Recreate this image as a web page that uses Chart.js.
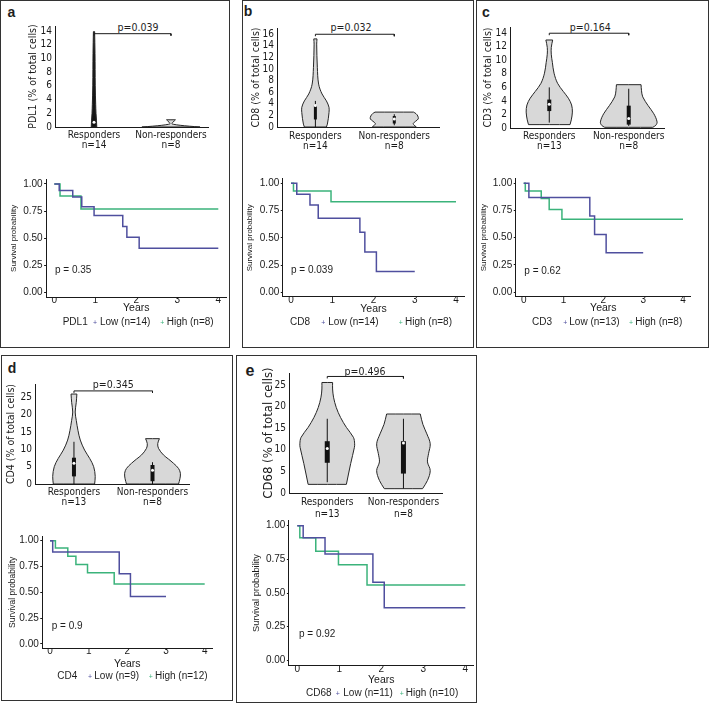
<!DOCTYPE html>
<html>
<head>
<meta charset="utf-8">
<title>Immune markers, response and survival</title>
<script src="https://cdn.jsdelivr.net/npm/chart.js@4.4.1/dist/chart.umd.min.js"></script>
<style>
  html, body { margin: 0; padding: 0; background: #fff; }
  body { position: relative; width: 709px; height: 704px; overflow: hidden;
         font-family: 'Liberation Sans', Arial, sans-serif; color: #1e1e1e; }
  .box { position: absolute; border: 1.5px solid #333; box-sizing: border-box; }
  .txt { position: absolute; white-space: nowrap; line-height: 1; }
  canvas { position: absolute; }
</style>
</head>
<body>
<script>
// ---- data ----
const groups = ['Responders', 'Non-responders'];
const yearTicks = [0, 1, 2, 3, 4];
const survTicks = [0, 0.25, 0.5, 0.75, 1];

// a : PDL1
const aN = ['n=14', 'n=8'];
const aP = 'p=0.039';
const aTicks = [0, 2, 4, 6, 8, 10, 12, 14];
const aRespY = [0, 1, 2, 3.3, 6, 10.7, 13.9];
const aRespW = [0.018, 0.016, 0.013, 0.011, 0.008, 0.0065, 0.004];
const aNonY = [0, 0.12, 0.25, 0.4, 0.5, 0.7, 0.9, 1.05];
const aNonW = [0.19, 0.12, 0.06, 0.015, 0.006, 0.013, 0.022, 0.029];
const aRespBox = [0.1, 0.3, 0.7, 1.2, 1.6]; // whisker lo, q1, median, q3, whisker hi
const aBracket = 13.6;
const aLowT = [0, 0.12, 0.45, 0.67, 0.97, 1.67, 1.77, 2.07, 4];
const aLowS = [1, 0.94, 0.88, 0.79, 0.71, 0.61, 0.51, 0.41, 0.41];
const aHighT = [0, 0.14, 0.65, 4];
const aHighS = [1, 0.89, 0.77, 0.77];
const aLegend = ['Low (n=14)', 'High (n=8)'];
const aKmP = 'p = 0.35';

// b : CD8
const bN = ['n=14', 'n=8'];
const bP = 'p=0.032';
const bTicks = [0, 2, 4, 6, 8, 10, 12, 14, 16];
const bRespY = [0, 0.5, 1.5, 2.5, 3.4, 4.5, 5.7, 7.4, 10.3, 14.3, 15.2];
const bRespW = [0.068, 0.074, 0.080, 0.084, 0.084, 0.068, 0.041, 0.020, 0.012, 0.008, 0.010];
const bNonY = [0, 0.3, 0.6, 1.0, 1.4, 1.9, 2.3, 2.57];
const bNonW = [0.136, 0.123, 0.117, 0.132, 0.148, 0.145, 0.134, 0.119];
const bRespBox = [0, 1.3, 3.7, 3.8, 4.5];
const bNonBox = [0.3, 0.6, 1.4, 1.9, 2.2];
const bBracket = 16;
const bLowT = [0, 0.14, 0.46, 0.66, 1.67, 1.79, 2.07, 3];
const bLowS = [1, 0.90, 0.80, 0.68, 0.55, 0.37, 0.19, 0.19];
const bHighT = [0, 0.06, 0.97, 4];
const bHighS = [1, 0.93, 0.83, 0.83];
const bLegend = ['Low (n=14)', 'High (n=8)'];
const bKmP = 'p = 0.039';

// c : CD3
const cN = ['n=13', 'n=8'];
const cP = 'p=0.164';
const cTicks = [0, 2, 4, 6, 8, 10, 12, 14];
const cRespY = [0.5, 1.2, 2.35, 3.4, 4.4, 5.4, 6.6, 8.1, 9.7, 10.9, 11.9, 13.0];
const cRespW = [0.135, 0.143, 0.150, 0.145, 0.124, 0.091, 0.054, 0.031, 0.020, 0.013, 0.013, 0.022];
const cNonY = [0.1, 0.4, 0.9, 2.1, 3.3, 4.6, 5.5, 6.4];
const cNonW = [0.156, 0.176, 0.184, 0.163, 0.126, 0.091, 0.083, 0.080];
const cRespBox = [0.8, 2.5, 3.5, 4.2, 6];
const cNonBox = [0.3, 0.5, 1.4, 3.3, 5.8];
const cBracket = 14;
const cLowT = [0, 0.13, 1.66, 1.78, 2.07, 3];
const cLowS = [1, 0.87, 0.70, 0.53, 0.36, 0.36];
const cHighT = [0, 0.04, 0.44, 0.64, 0.96, 4];
const cHighS = [1, 0.93, 0.86, 0.76, 0.67, 0.67];
const cLegend = ['Low (n=13)', 'High (n=8)'];
const cKmP = 'p = 0.62';

// d : CD4
const dN = ['n=13', 'n=8'];
const dP = 'p=0.345';
const dTicks = [0, 5, 10, 15, 20, 25];
const dRespY = [0, 2.2, 5, 7.4, 9.8, 12.7, 15.5, 18.4, 20.8, 23.6, 26];
const dRespW = [0.134, 0.138, 0.128, 0.102, 0.069, 0.041, 0.026, 0.015, 0.008, 0.015, 0.019];
const dNonY = [0, 1.5, 3.1, 4.5, 6, 7.2, 8.4, 10.3, 11.7, 13.1];
const dNonW = [0.169, 0.178, 0.181, 0.169, 0.136, 0.104, 0.071, 0.039, 0.034, 0.045];
const dRespBox = [0, 2.2, 6, 7.6, 12.2];
const dNonBox = [0, 0.8, 4, 5.5, 6.3];
const dBracket = 26.9;
const dLowT = [0, 0.07, 1.79, 2.08, 3];
const dLowS = [1, 0.89, 0.68, 0.46, 0.46];
const dHighT = [0, 0.14, 0.46, 0.67, 0.97, 1.66, 4];
const dHighS = [1, 0.93, 0.85, 0.77, 0.69, 0.58, 0.58];
const dLegend = ['Low (n=9)', 'High (n=12)'];
const dKmP = 'p = 0.9';

// e : CD68
const eN = ['n=13', 'n=8'];
const eP = 'p=0.496';
const eTicks = [0, 5, 10, 15, 20, 25];
const eRespY = [2.0, 6.8, 10.5, 11.4, 12.9, 15.2, 17.5, 19.8, 22.2, 24.1, 25.6];
const eRespW = [0.125, 0.153, 0.177, 0.179, 0.171, 0.125, 0.087, 0.059, 0.041, 0.035, 0.035];
const eNonY = [1.0, 2.9, 5.2, 7.2, 9.1, 11.4, 13.7, 15.9, 18.3];
const eNonW = [0.125, 0.157, 0.175, 0.157, 0.164, 0.175, 0.153, 0.127, 0.110];
const eRespBox = [2.5, 7, 10.3, 12, 17.2];
const eNonBox = [1, 4.5, 11.6, 12, 17.2];
const eBracket = 27;
const eLowT = [0, 0.14, 0.66, 1.8, 2.07, 4];
const eLowS = [1, 0.91, 0.79, 0.58, 0.39, 0.39];
const eHighT = [0, 0.06, 0.44, 0.98, 1.66, 4];
const eHighS = [1, 0.91, 0.81, 0.71, 0.56, 0.56];
const eLegend = ['Low (n=11)', 'High (n=10)'];
const eKmP = 'p = 0.92';

// ---- styles ----
const SANS = "'Liberation Sans', Arial, sans-serif";
const NARROW = "'Liberation Sans Narrow', 'Arial Narrow', 'DejaVu Sans Condensed', sans-serif";
const INK = '#1a1a1a';
const LOW_COL = '#4f4f9e';
const HIGH_COL = '#3bb37b';
const KM_X = [-0.2, 4.2];
const KM_Y = [-0.04, 1.04];
Chart.defaults.font.family = SANS;
Chart.defaults.color = INK;

// ---- page layout (pixels) ----
const panels = [
  { letter: 'a', marker: 'PDL1', n: aN, p: aP, kmP: aKmP, legend: aLegend, yTicks: aTicks, bracket: aBracket,
    shapes: [{y: aRespY, w: aRespW, box: aRespBox, fill: '#161616'}, {y: aNonY, w: aNonW, box: null}],
    low: [aLowT, aLowS], high: [aHighT, aHighS],
    geo: { box: [0, 0, 230, 348], letter: [11.5, 11.5, 14], pv: [138, 26.7],
      vio: {L: 55, R: 208, T: 25, B: 127, ymax: 14.72, titleX: 33, titleSize: 10.5, centers: [0.255, 0.758], labelY: 135.7, labLH: 1, boxW: 0},
      km: {x0: 54.3, x4: 218.3, y1: 184, y0: 292.7, titleX: 14, titleSize: 8, labelY: 300, yearsY: 307.7},
      kmP: [55, 270], leg: {y: 321.7, x: [62.7, 95, 100, 162.3, 166.7]} } },
  { letter: 'b', marker: 'CD8', n: bN, p: bP, kmP: bKmP, legend: bLegend, yTicks: bTicks, bracket: bBracket,
    shapes: [{y: bRespY, w: bRespW, box: bRespBox}, {y: bNonY, w: bNonW, box: bNonBox}],
    low: [bLowT, bLowS], high: [bHighT, bHighS],
    geo: { box: [242, 0, 232, 348], letter: [248, 11, 14], pv: [351, 27.3],
      vio: {L: 277, R: 439, T: 27, B: 127, ymax: 17.08, titleX: 256, titleSize: 10.5, centers: [0.237, 0.724], labelY: 136.7, labLH: 1, boxW: 3},
      km: {x0: 291, x4: 456, y1: 183.3, y0: 292.3, titleX: 250, titleSize: 8, labelY: 300, yearsY: 309},
      kmP: [291, 270], leg: {y: 321.7, x: [290, 323.3, 328.3, 400.7, 405]} } },
  { letter: 'c', marker: 'CD3', n: cN, p: cP, kmP: cKmP, legend: cLegend, yTicks: cTicks, bracket: cBracket,
    shapes: [{y: cRespY, w: cRespW, box: cRespBox}, {y: cNonY, w: cNonW, box: cNonBox}],
    low: [cLowT, cLowS], high: [cHighT, cHighS],
    geo: { box: [476, 0, 233, 348], letter: [486, 12.2, 14], pv: [590.3, 27.3],
      vio: {L: 510, R: 664, T: 26, B: 128, ymax: 14.92, titleX: 488.7, titleSize: 10.5, centers: [0.255, 0.771], labelY: 136, labLH: 1, boxW: 4},
      km: {x0: 523.7, x4: 683, y1: 183.3, y0: 292, titleX: 483.7, titleSize: 8, labelY: 300, yearsY: 308.3},
      kmP: [524.3, 271], leg: {y: 321.7, x: [532, 565.3, 569.3, 631, 635.3]} } },
  { letter: 'd', marker: 'CD4', n: dN, p: dP, kmP: dKmP, legend: dLegend, yTicks: dTicks, bracket: dBracket,
    shapes: [{y: dRespY, w: dRespW, box: dRespBox}, {y: dNonY, w: dNonW, box: dNonBox}],
    low: [dLowT, dLowS], high: [dHighT, dHighS],
    geo: { box: [1, 355, 232, 346], letter: [12, 368, 14], pv: [113.3, 384.3],
      vio: {L: 35, R: 189, T: 383, B: 484, ymax: 28.9, titleX: 11.7, titleSize: 10.5, centers: [0.253, 0.763], labelY: 492.3, labLH: 1, boxW: 4},
      km: {x0: 50, x4: 204.7, y1: 540.7, y0: 644, titleX: 13.3, titleSize: 8.5, labelY: 651.7, yearsY: 664.3},
      kmP: [51.7, 625.7], leg: {y: 675.7, x: [57.3, 90, 94.3, 150.7, 155]} } },
  { letter: 'e', marker: 'CD68', n: eN, p: eP, kmP: eKmP, legend: eLegend, yTicks: eTicks, bracket: eBracket,
    shapes: [{y: eRespY, w: eRespW, box: eRespBox}, {y: eNonY, w: eNonW, box: eNonBox}],
    low: [eLowT, eLowS], high: [eHighT, eHighS],
    geo: { box: [236, 355, 241, 348], letter: [250, 371, 16], pv: [365, 371],
      vio: {L: 289, R: 442, T: 372, B: 493, ymax: 27.8, titleX: 268.3, titleSize: 13, centers: [0.25, 0.748], labelY: 502.7, labLH: 1.2, boxW: 5},
      km: {x0: 297.3, x4: 465.3, y1: 525.7, y0: 660.3, titleX: 256.7, titleSize: 9.3, labelY: 669.3, yearsY: 680},
      kmP: [299, 634], leg: {y: 693.3, x: [306, 337.7, 343.3, 401.7, 405.7]} } }
];

// ---- helpers ----
function frame(x, y, w, h) {
  const d = document.createElement('div');
  d.className = 'box';
  Object.assign(d.style, {left: x + 'px', top: y + 'px', width: w + 'px', height: h + 'px'});
  document.body.appendChild(d);
}

function text(str, x, y, o) {
  const d = document.createElement('div');
  d.className = 'txt';
  d.textContent = str;
  d.style.left = x + 'px';
  d.style.top = y + 'px';
  d.style.fontSize = (o.size || 10) + 'px';
  if (o.family) d.style.fontFamily = o.family;
  if (o.bold) d.style.fontWeight = 'bold';
  if (o.color) d.style.color = o.color;
  d.style.transform = o.left ? 'translate(0,-50%)' : 'translate(-50%,-50%)';
  document.body.appendChild(d);
}

// one chart whose plot area lands exactly on L,T,R,B of the page
function build(g) {
  const PT = 8, PR = 10;
  const lh = g.yTitle.size * 1.2;
  const cl = Math.round(g.yTitle.x - lh / 2);
  const ct = Math.floor(g.T - PT);
  const w = Math.ceil(g.R + PR - cl);
  const h = Math.ceil(g.B + g.hx + 2 - ct);
  const cv = document.createElement('canvas');
  cv.width = w; cv.height = h;
  Object.assign(cv.style, {left: cl + 'px', top: ct + 'px', width: w + 'px', height: h + 'px'});
  document.body.appendChild(cv);

  new Chart(cv, {
    type: 'line',
    data: {datasets: g.datasets},
    options: {
      responsive: false, animation: false, events: [],
      layout: {autoPadding: false, padding: {left: 0, top: g.T - ct, right: cl + w - g.R, bottom: ct + h - g.B - g.hx}},
      plugins: {legend: {display: false}, tooltip: {enabled: false}},
      scales: {
        x: {
          type: 'linear', min: g.x.min, max: g.x.max,
          afterBuildTicks: a => { a.ticks = g.x.ticks.map(v => ({value: v})); },
          afterFit: s => { s.height = g.hx; },
          grid: {display: false, drawTicks: false},
          border: {display: true, color: INK, width: 1},
          ticks: {autoSkip: false, maxRotation: 0, minRotation: 0, padding: g.x.pad, color: INK, font: g.x.font, callback: g.x.label},
          title: g.x.title
            ? {display: true, text: g.x.title, padding: 0, color: INK, font: {size: 10.5, lineHeight: 1}}
            : {display: false}
        },
        y: {
          type: 'linear', min: g.y.min, max: g.y.max,
          afterBuildTicks: a => { a.ticks = g.y.ticks.map(v => ({value: v})); },
          afterFit: s => { s.width = g.L - cl; },
          grid: {display: g.y.tickLen > 0, drawOnChartArea: false, drawTicks: g.y.tickLen > 0, tickLength: g.y.tickLen, color: INK},
          border: {display: true, color: INK, width: 1},
          ticks: {autoSkip: false, padding: g.y.pad, color: INK, font: g.y.font, callback: g.y.label},
          title: {display: true, text: g.yTitle.text, padding: 0, color: INK,
                  font: {family: g.yTitle.family, size: g.yTitle.size, lineHeight: 1.2}}
        }
      }
    }
  });
}

function violinSets(c, ys, ws, box, boxW, fillCol) {
  const n = ys.length;
  const left = ys.map((y, i) => ({x: c - ws[i], y: y}));
  const right = ys.map((y, i) => ({x: c + ws[i], y: y})).reverse();
  // corners doubled so the trimmed ends stay flat
  const outline = left.concat([left[n - 1], right[0]], right, [right[n - 1], left[0]]);
  const sets = [{data: outline, fill: 'shape', backgroundColor: fillCol || '#d8d8d8', borderColor: '#262626',
                 borderWidth: 1, tension: 0.35, pointRadius: 0, order: 6}];
  if (box) {
    sets.push({data: [{x: c, y: box[0]}, {x: c, y: box[4]}], borderColor: '#111', borderWidth: 1, pointRadius: 0, order: 3});
    if (boxW) sets.push({data: [{x: c, y: box[1]}, {x: c, y: box[3]}], borderColor: '#111', borderWidth: boxW,
                         borderCapStyle: 'butt', pointRadius: 0, order: 2});
    sets.push({data: [{x: c, y: box[2]}], showLine: false, pointRadius: 1.5, pointBackgroundColor: '#fff',
               pointBorderWidth: 0, order: 1});
  }
  return sets;
}

function kmSet(series, col) {
  return {data: series[0].map((t, i) => ({x: t, y: series[1][i]})), stepped: true,
          borderColor: col, borderWidth: 1.5, pointRadius: 0, fill: false};
}

// ---- draw ----
panels.forEach(p => {
  const g = p.geo;
  frame(...g.box);
  text(p.letter, g.letter[0], g.letter[1], {size: g.letter[2], bold: true});
  text(p.p, g.pv[0], g.pv[1], {size: 10.5, family: NARROW});

  // violins
  const v = g.vio;
  const ppu = (v.B - v.T) / v.ymax;
  let sets = [];
  p.shapes.forEach((s, k) => { sets = sets.concat(violinSets(v.centers[k], s.y, s.w, s.box, v.boxW, s.fill)); });
  const dip = 2 / ppu;
  sets.push({data: [{x: v.centers[0], y: p.bracket - dip}, {x: v.centers[0], y: p.bracket},
                    {x: v.centers[1], y: p.bracket}, {x: v.centers[1], y: p.bracket - dip}],
             borderColor: INK, borderWidth: 1, pointRadius: 0, order: 0, clip: false});
  build({
    L: v.L, R: v.R, T: v.T, B: v.B, hx: 32,
    yTitle: {x: v.titleX, size: v.titleSize, text: p.marker + ' (% of total cells)', family: NARROW},
    x: {min: 0, max: 1, ticks: v.centers, label: (val, i) => [groups[i], p.n[i]],
        font: {family: NARROW, size: 10, lineHeight: v.labLH}, pad: v.labelY - v.B - 5 * v.labLH},
    y: {min: 0, max: v.ymax, ticks: p.yTicks, label: val => String(val),
        font: {family: NARROW, size: 10}, pad: 3, tickLen: 0},
    datasets: sets
  });

  // Kaplan-Meier
  const k = g.km;
  const xpu = (k.x4 - k.x0) / 4, ypu = k.y0 - k.y1;
  const B = k.y0 - KM_Y[0] * ypu;
  build({
    L: k.x0 + KM_X[0] * xpu, R: k.x0 + KM_X[1] * xpu, T: k.y0 - KM_Y[1] * ypu, B: B,
    hx: k.yearsY - B + 5.25,
    yTitle: {x: k.titleX, size: k.titleSize, text: 'Survival probability', family: SANS},
    x: {min: KM_X[0], max: KM_X[1], ticks: yearTicks, label: val => String(val),
        font: {size: 10, lineHeight: 2 * (k.labelY - B) / 10}, pad: 0, title: 'Years'},
    y: {min: KM_Y[0], max: KM_Y[1], ticks: survTicks, label: val => val.toFixed(2),
        font: {size: 10}, pad: 1.5, tickLen: 2},
    datasets: [kmSet(p.low, LOW_COL), kmSet(p.high, HIGH_COL)]
  });

  text(p.kmP, g.kmP[0], g.kmP[1], {size: 10, left: true});
  const lx = g.leg.x, ly = g.leg.y;
  text(p.marker, lx[0], ly, {size: 10, left: true});
  text('+', lx[1], ly, {size: 7, color: LOW_COL});
  text(p.legend[0], lx[2], ly, {size: 10, left: true});
  text('+', lx[3], ly, {size: 7, color: HIGH_COL});
  text(p.legend[1], lx[4], ly, {size: 10, left: true});
});
</script>
</body>
</html>
